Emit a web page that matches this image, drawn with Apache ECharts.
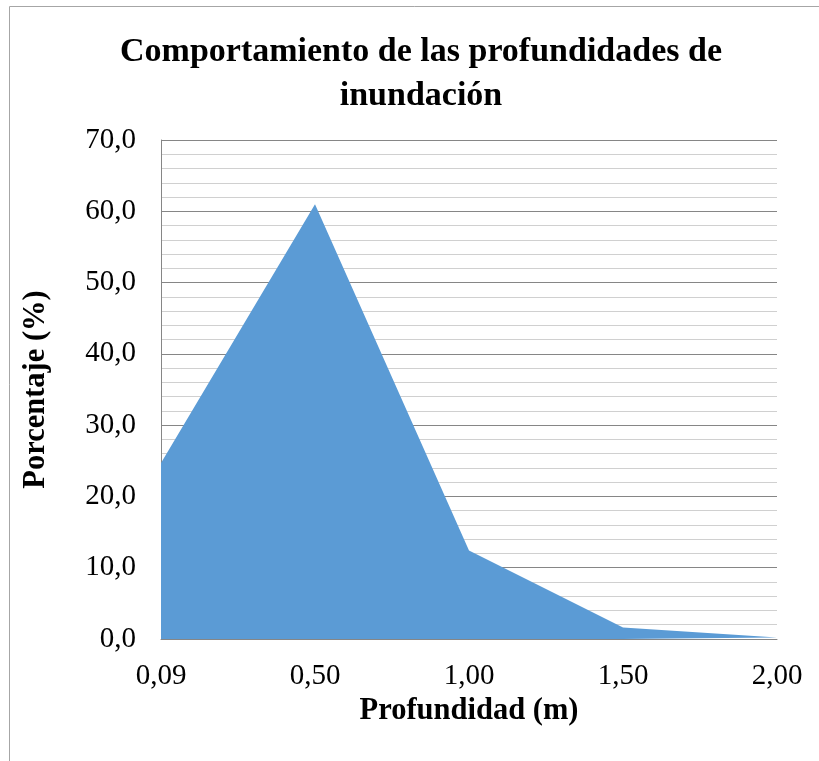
<!DOCTYPE html>
<html>
<head>
<meta charset="utf-8">
<script src="https://cdn.jsdelivr.net/npm/echarts@6/dist/echarts.min.js"></script>
<style>html,body{margin:0;padding:0;background:#fff}#c{width:819px;height:761px}</style>
</head>
<body>
<div id="c"></div>
<script>
var categories = ['0,09', '0,50', '1,00', '1,50', '2,00'];
var porcentaje = [24.7, 61.0, 12.4, 1.6, 0.2];
var yTicks = [0, 10, 20, 30, 40, 50, 60, 70];

var serif = '"Liberation Serif", "Times New Roman", serif';
var chart = echarts.init(document.getElementById('c'), null, {renderer: 'canvas'});
chart.setOption({
  animation: false,
  backgroundColor: '#fff',
  graphic: [{
    type: 'rect', silent: true, z: -1,
    shape: {x: 9.5, y: 6.5, width: 1000, height: 1000},
    style: {fill: 'none', stroke: '#a6a6a6', lineWidth: 1}
  }],
  title: {
    text: 'Comportamiento de las profundidades de\ninundación',
    left: 416, top: 25,
    textAlign: 'center',
    textStyle: {fontFamily: serif, fontWeight: 'bold', fontSize: 34, lineHeight: 44, color: '#000'}
  },
  grid: {left: 161, right: 42, top: 140, bottom: 122, containLabel: false},
  xAxis: {
    type: 'category', data: categories, boundaryGap: false,
    name: 'Profundidad (m)', nameLocation: 'middle', nameGap: 54,
    nameTextStyle: {fontFamily: serif, fontWeight: 'bold', fontSize: 30.5, color: '#000'},
    axisLine: {lineStyle: {color: '#868686', width: 1}},
    axisTick: {show: false},
    axisLabel: {fontFamily: serif, fontSize: 29, color: '#000', margin: 23},
    splitLine: {show: false}
  },
  yAxis: {
    type: 'value', min: yTicks[0], max: yTicks[yTicks.length - 1], interval: 10,
    name: 'Porcentaje (%)', nameLocation: 'middle', nameGap: 109,
    nameTextStyle: {fontFamily: serif, fontWeight: 'bold', fontSize: 30.5, color: '#000'},
    axisLine: {show: true, lineStyle: {color: '#868686', width: 1}},
    axisTick: {show: false},
    axisLabel: {fontFamily: serif, fontSize: 29, color: '#000', margin: 25,
      formatter: function (v) { return v.toFixed(1).replace('.', ','); }},
    splitLine: {show: true, lineStyle: {color: '#868686', width: 1}},
    minorTick: {show: false, splitNumber: 5},
    minorSplitLine: {show: true, lineStyle: {color: '#d0d0d0', width: 1}}
  },
  series: [{
    type: 'line', data: porcentaje, symbol: 'none',
    lineStyle: {width: 0, color: '#5b9bd5'},
    areaStyle: {color: '#5b9bd5', opacity: 1},
    itemStyle: {color: '#5b9bd5'},
    z: 3
  }]
});
</script>
</body>
</html>
